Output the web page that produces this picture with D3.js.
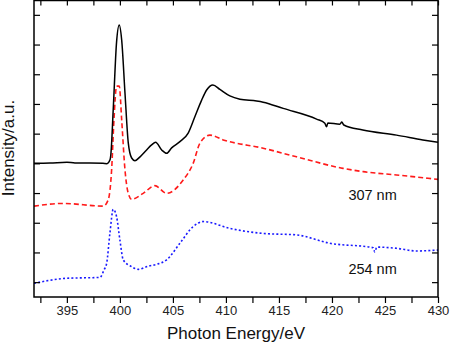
<!DOCTYPE html>
<html>
<head>
<meta charset="utf-8">
<script src="https://cdn.jsdelivr.net/npm/d3@7/dist/d3.min.js"></script>
<style>
  html, body { margin: 0; padding: 0; background: #fff; }
  svg { display: block; font-family: "Liberation Sans", Arial, sans-serif; }
</style>
</head>
<body>
<svg id="chart" width="450" height="344"></svg>
<script>
// ---- data (photon energy eV, intensity a.u.) ----
const blackX = [391.9,393.41,395.01,395.76,397.18,398.4,398.78,399.06,399.16,399.37,399.69,399.94,400.17,400.48,400.79,401.11,401.42,401.9,402.52,402.99,403.37,403.94,404.41,404.88,405.66,406.44,407.07,407.71,408.18,408.77,409.43,410.37,411.32,412.89,413.51,415.4,418.55,419.33,419.49,419.61,420.74,420.93,421.12,422.91,426.09,428.57,430];
const blackY = [4.50,4.51,4.54,4.51,4.51,4.50,4.49,4.61,4.85,6.30,8.60,9.16,8.65,6.87,5.19,4.68,4.59,4.72,4.95,5.12,5.21,4.95,4.84,5.02,5.23,5.52,6.07,6.63,6.97,7.14,6.99,6.77,6.66,6.60,6.56,6.35,5.99,5.85,5.73,5.86,5.82,5.89,5.79,5.62,5.45,5.29,5.21];

const redX = [391.9,394.66,398.43,398.9,399.22,399.44,399.69,399.94,400.17,400.48,400.79,401.11,402.2,403.3,404.41,405.97,406.91,407.55,408.49,409.74,413.51,416.66,421.05,422.94,426.08,430];
const redY = [3.06,3.15,3.06,3.27,4.28,5.96,7.10,7.10,5.96,4.28,3.49,3.29,3.49,3.75,3.49,3.94,4.50,5.18,5.45,5.29,5.01,4.72,4.33,4.22,4.11,3.96];

const blueX = [391.9,394.98,398.12,398.5,398.75,399.06,399.37,399.69,400.0,400.32,401.11,401.73,402.67,403.46,404.41,405.66,406.91,407.86,410.37,413.51,416.66,419.8,423.88,424.04,424.23,426.08,427.97,430];
const blueY = [0.46,0.63,0.66,0.91,1.13,2.15,2.95,2.70,1.92,1.25,1.02,0.93,1.04,1.10,1.25,1.81,2.37,2.54,2.31,2.14,2.09,1.81,1.66,1.52,1.68,1.64,1.55,1.58];

const xTicks = [392.5,395,397.5,400,402.5,405,407.5,410,412.5,415,417.5,420,422.5,425,427.5,430];
const xLabels = [395,400,405,410,415,420,425,430];
const yTicks = [0.5,1.5,2.5,3.5,4.5,5.5,6.5,7.5,8.5,9.5];

const seriesLabels = [{text: "307 nm", x: 421.55, y: 3.27}, {text: "254 nm", x: 421.55, y: 0.78}];

// ---- layout ----
const L = 34, R = 438, T = 0.5, B = 297;
const svg = d3.select("#chart");
const x = d3.scaleLinear().domain([391.9, 430]).range([L, R]);
const y = d3.scaleLinear().domain([0, 10]).range([B, 0]);

const defs = svg.append("defs");
defs.append("clipPath").attr("id", "clip").append("rect")
  .attr("x", L).attr("y", T).attr("width", R - L).attr("height", B - T);

const line = d3.line().x(d => x(d[0])).y(d => y(d[1])).curve(d3.curveMonotoneX);
const g = svg.append("g").attr("clip-path", "url(#clip)");

g.append("path").datum(blueX.map((v, i) => [v, blueY[i]]))
  .attr("d", line).attr("fill", "none").attr("stroke", "#1a1aff")
  .attr("stroke-width", 1.6).attr("stroke-dasharray", "2,2.2");
g.append("path").datum(redX.map((v, i) => [v, redY[i]]))
  .attr("d", line).attr("fill", "none").attr("stroke", "#ff1a1a")
  .attr("stroke-width", 1.6).attr("stroke-dasharray", "5,3");
g.append("path").datum(blackX.map((v, i) => [v, blackY[i]]))
  .attr("d", line).attr("fill", "none").attr("stroke", "#000")
  .attr("stroke-width", 1.5);

// ---- axes ----
function styleAxis(sel) {
  sel.select(".domain").remove();
  sel.selectAll(".tick line").attr("stroke", "#000").attr("stroke-width", 1.2);
}
const fmt = d => (xLabels.includes(d) ? d3.format("d")(d) : "");
svg.append("g").attr("transform", `translate(0,${B})`)
  .call(d3.axisBottom(x).tickValues(xTicks).tickSize(6).tickPadding(3).tickFormat(fmt))
  .call(styleAxis)
  .call(s => s.selectAll("text").attr("font-size", 13).attr("fill", "#222")
        .attr("font-family", "Liberation Sans, Arial, sans-serif"));
svg.append("g").attr("transform", `translate(0,${T})`)
  .call(d3.axisTop(x).tickValues(xTicks).tickSize(-5).tickFormat(""))
  .call(styleAxis);
svg.append("g").attr("transform", `translate(${L},0)`)
  .call(d3.axisLeft(y).tickValues(yTicks).tickSize(-6).tickFormat(""))
  .call(styleAxis);
svg.append("g").attr("transform", `translate(${R},0)`)
  .call(d3.axisRight(y).tickValues(yTicks).tickSize(-6).tickFormat(""))
  .call(styleAxis);

svg.append("rect").attr("x", L).attr("y", T).attr("width", R - L).attr("height", B - T)
  .attr("fill", "none").attr("stroke", "#000").attr("stroke-width", 1.5);

// ---- titles ----
svg.append("text").attr("x", (L + R) / 2).attr("y", 339)
  .attr("text-anchor", "middle").attr("font-size", 17).attr("fill", "#111")
  .text("Photon Energy/eV");
svg.append("text").attr("transform", `translate(14,148) rotate(-90)`)
  .attr("text-anchor", "middle").attr("font-size", 17).attr("fill", "#111")
  .text("Intensity/a.u.");

svg.selectAll(".serieslabel").data(seriesLabels).enter().append("text")
  .attr("class", "serieslabel")
  .attr("x", d => x(d.x)).attr("y", d => y(d.y))
  .attr("font-size", 14.5).attr("fill", "#111")
  .text(d => d.text);
</script>
</body>
</html>
